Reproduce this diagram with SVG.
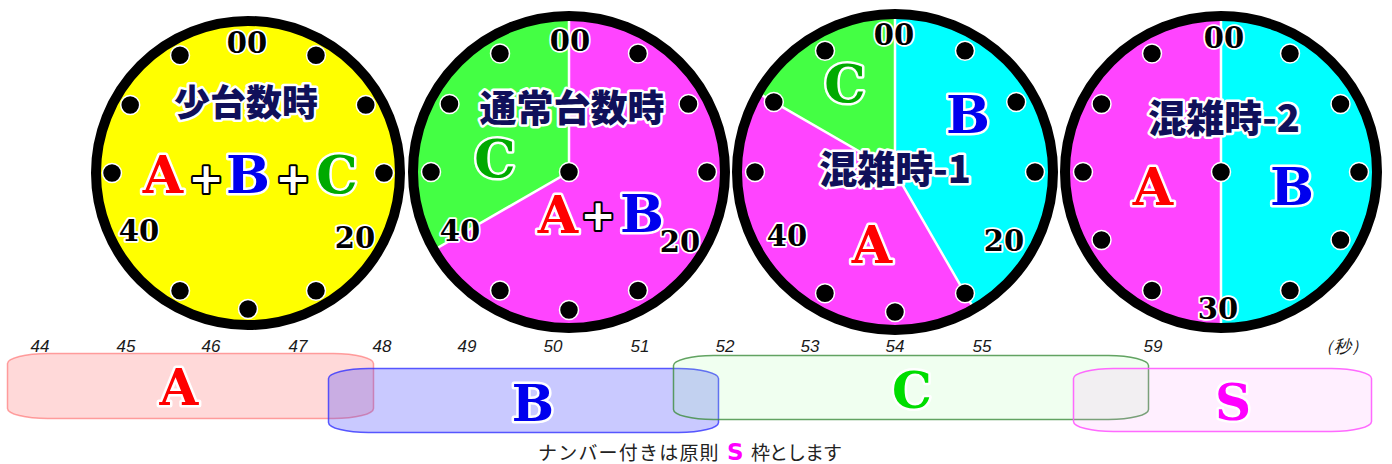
<svg xmlns="http://www.w3.org/2000/svg" width="1392" height="464" viewBox="0 0 1392 464">
<style>
.ring{fill:none;stroke:#000;stroke-width:10}
.dot{fill:#000;stroke:#fff;stroke-width:1.5}
.sep{stroke:#fff;stroke-width:2.5;fill:none}
.num{font-family:"DejaVu Serif",serif;font-weight:bold;font-size:29px;fill:#000;stroke:#fff;stroke-width:3.5;paint-order:stroke;stroke-linejoin:round;text-anchor:middle}
.ttl{font-family:"Noto Sans CJK JP",sans-serif;font-weight:900;fill:#10105a;stroke:#fff;stroke-width:5;paint-order:stroke;stroke-linejoin:round;text-anchor:middle}
.big{font-family:"DejaVu Serif",serif;font-weight:bold;font-size:52px;stroke:#fff;stroke-width:5;paint-order:stroke;stroke-linejoin:round;text-anchor:middle}
.plus{font-family:"DejaVu Sans",sans-serif;font-weight:bold;font-size:42px;fill:#fff;stroke:#000;stroke-width:4;paint-order:stroke;stroke-linejoin:round;text-anchor:middle}
.tick{font-family:"Liberation Sans",sans-serif;font-style:italic;font-size:17px;fill:#1a1a1a;text-anchor:middle}
.box{stroke-width:1.5}
.bl{font-family:"DejaVu Serif",serif;font-weight:bold;font-size:50px;stroke:#fff;stroke-width:5;paint-order:stroke;stroke-linejoin:round;text-anchor:middle}
.ra{fill:#ff0000}.rb{fill:#0000ee}.rc{fill:#00aa00}
</style>

<g id="clock1">
<circle cx="248" cy="173" r="152" fill="#ffff00"/>
<circle class="ring" cx="248" cy="173" r="152"/>
<circle class="dot" cx="316" cy="55.2" r="9.5"/>
<circle class="dot" cx="365.8" cy="105" r="9.5"/>
<circle class="dot" cx="384" cy="173" r="9.5"/>
<circle class="dot" cx="316" cy="290.8" r="9.5"/>
<circle class="dot" cx="248" cy="309" r="9.5"/>
<circle class="dot" cx="180" cy="290.8" r="9.5"/>
<circle class="dot" cx="112" cy="173" r="9.5"/>
<circle class="dot" cx="130.2" cy="105" r="9.5"/>
<circle class="dot" cx="180" cy="55.2" r="9.5"/>
<text class="num" x="247" y="53">00</text>
<text class="num" x="139" y="241">40</text>
<text class="num" x="355" y="248">20</text>
<text class="ttl" x="246" y="116" font-size="36">少台数時</text>
<text class="big ra" x="163" y="193">A</text>
<text class="plus" x="206" y="193">+</text>
<text class="big rb" x="248" y="193">B</text>
<text class="plus" x="293" y="193">+</text>
<text class="big rc" x="337" y="193">C</text>
</g>

<g id="clock2">
<circle cx="569" cy="172" r="156" fill="#ff44ff"/>
<path d="M569,172 L433.9,250 A156,156 0 0 1 569,16 Z" fill="#44ff44"/>
<path class="sep" d="M569,16 L569,172 L433.9,250"/>
<circle class="ring" cx="569" cy="172" r="156"/>
<circle class="dot" cx="638" cy="53.5" r="9.5"/>
<circle class="dot" cx="688.5" cy="104" r="9.5"/>
<circle class="dot" cx="707" cy="172" r="9.5"/>
<circle class="dot" cx="638" cy="290.5" r="9.5"/>
<circle class="dot" cx="569" cy="310" r="9.5"/>
<circle class="dot" cx="500" cy="290.5" r="9.5"/>
<circle class="dot" cx="431" cy="172" r="9.5"/>
<circle class="dot" cx="449.5" cy="104" r="9.5"/>
<circle class="dot" cx="500" cy="53.5" r="9.5"/>
<circle class="dot" cx="569" cy="172" r="9.5"/>
<text class="num" x="570" y="51" font-size="30">00</text>
<text class="num" x="460" y="241" font-size="30">40</text>
<text class="num" x="680" y="252" font-size="30">20</text>
<text class="ttl" x="572" y="122" font-size="37">通常台数時</text>
<text class="big rc" x="495" y="177">C</text>
<text class="big ra" x="558" y="233">A</text>
<text class="plus" x="598" y="230">+</text>
<text class="big rb" x="642" y="232">B</text>
</g>

<g id="clock3">
<circle cx="895" cy="172" r="158" fill="#ff44ff"/>
<path d="M895,172 L895,14 A158,158 0 0 1 974,308.8 Z" fill="#00ffff"/>
<path d="M895,172 L758.2,93 A158,158 0 0 1 895,14 Z" fill="#44ff44"/>
<path class="sep" d="M895,14 L895,172 L974,308.8 M895,172 L758.2,93"/>
<circle class="ring" cx="895" cy="172" r="158"/>
<circle class="dot" cx="965" cy="50.8" r="9.5"/>
<circle class="dot" cx="1016.2" cy="102" r="9.5"/>
<circle class="dot" cx="1035" cy="172" r="9.5"/>
<circle class="dot" cx="965" cy="293.2" r="9.5"/>
<circle class="dot" cx="895" cy="312" r="9.5"/>
<circle class="dot" cx="825" cy="293.2" r="9.5"/>
<circle class="dot" cx="755" cy="172" r="9.5"/>
<circle class="dot" cx="773.8" cy="102" r="9.5"/>
<circle class="dot" cx="825" cy="50.8" r="9.5"/>
<text class="num" x="894" y="45" font-size="30">00</text>
<text class="num" x="787" y="246" font-size="30">40</text>
<text class="num" x="1004" y="251" font-size="30">20</text>
<text class="big rc" x="845" y="102">C</text>
<text class="big rb" x="968" y="133">B</text>
<text class="big ra" x="872" y="263">A</text>
<text class="ttl" x="895" y="183" font-size="38">混雑時-1</text>
</g>

<g id="clock4">
<circle cx="1221" cy="172" r="156" fill="#ff44ff"/>
<path d="M1221,16 A156,156 0 0 1 1221,328 Z" fill="#00ffff"/>
<path class="sep" d="M1221,16 L1221,328"/>
<circle class="ring" cx="1221" cy="172" r="156"/>
<circle class="dot" cx="1290" cy="53.5" r="9.5"/>
<circle class="dot" cx="1340.5" cy="104" r="9.5"/>
<circle class="dot" cx="1359" cy="172" r="9.5"/>
<circle class="dot" cx="1340.5" cy="240" r="9.5"/>
<circle class="dot" cx="1290" cy="290.5" r="9.5"/>
<circle class="dot" cx="1152" cy="290.5" r="9.5"/>
<circle class="dot" cx="1101.5" cy="240" r="9.5"/>
<circle class="dot" cx="1083" cy="172" r="9.5"/>
<circle class="dot" cx="1101.5" cy="104" r="9.5"/>
<circle class="dot" cx="1152" cy="53.5" r="9.5"/>
<circle class="dot" cx="1221" cy="172" r="9.5"/>
<text class="num" x="1224" y="48" font-size="30">00</text>
<text class="num" x="1218" y="319" font-size="30">30</text>
<text class="ttl" x="1224" y="131.5" font-size="38">混雑時-2</text>
<text class="big ra" x="1153" y="205">A</text>
<text class="big rb" x="1292" y="205">B</text>
</g>

<g id="timeline-scale">
<text class="tick" x="40" y="352">44</text>
<text class="tick" x="126" y="352">45</text>
<text class="tick" x="211" y="352">46</text>
<text class="tick" x="298" y="352">47</text>
<text class="tick" x="382" y="352">48</text>
<text class="tick" x="467" y="352">49</text>
<text class="tick" x="553" y="352">50</text>
<text class="tick" x="640" y="352">51</text>
<text class="tick" x="725" y="352">52</text>
<text class="tick" x="810" y="352">53</text>
<text class="tick" x="895" y="352">54</text>
<text class="tick" x="982" y="352">55</text>
<text class="tick" x="1153" y="352">59</text>
<text class="tick" x="1342" y="352" font-size="15" font-family="'Noto Sans CJK JP',sans-serif">（秒）</text>
</g>

<g id="boxA">
<rect class="box" x="7.5" y="353.5" width="366" height="65" rx="40" ry="10" fill="rgba(255,80,80,0.22)" stroke="rgba(255,90,90,0.55)"/>
<text class="bl ra" x="179" y="405">A</text>
</g>
<g id="boxB">
<rect class="box" x="328.5" y="368.5" width="390" height="64" rx="40" ry="10" fill="rgba(60,60,255,0.28)" stroke="rgba(50,50,255,0.8)"/>
<text class="bl rb" x="533" y="421">B</text>
</g>
<g id="boxC">
<rect class="box" x="673.5" y="355.5" width="475" height="64" rx="40" ry="10" fill="rgba(160,255,160,0.16)" stroke="rgba(60,140,60,0.8)"/>
<text class="bl" x="912" y="408" fill="#00dd00">C</text>
</g>
<g id="boxS">
<rect class="box" x="1073.5" y="368.5" width="298" height="63" rx="40" ry="10" fill="rgba(255,150,255,0.15)" stroke="rgba(255,90,255,0.9)"/>
<text class="bl" x="1233" y="420" fill="#ff00ff" font-family="'DejaVu Sans',sans-serif">S</text>
</g>

<g id="note">
<text font-family="'Noto Sans CJK JP',sans-serif" font-size="19" fill="#222" y="459.5"><tspan x="538" letter-spacing="1.2">ナンバー付きは原則</tspan><tspan x="727" font-family="'DejaVu Sans',sans-serif" font-weight="bold" font-size="23" fill="#ff00ff">S</tspan><tspan x="751" letter-spacing="-1">枠とします</tspan></text>
</g>

<g id="connectors"/>
</svg>
